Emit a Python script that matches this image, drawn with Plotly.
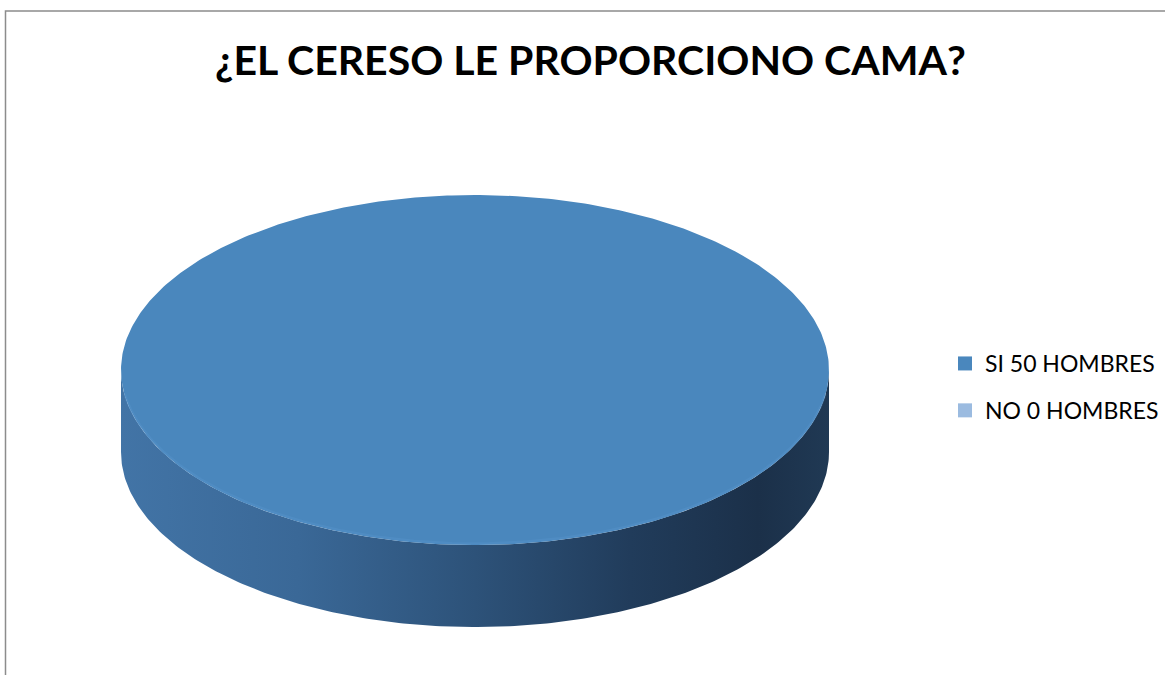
import numpy as np
import plotly.graph_objects as go

# Chart data
title_text = "¿EL CERESO LE PROPORCIONO CAMA?"
categories = ["SI 50 HOMBRES", "NO 0 HOMBRES"]
values = [50, 0]
top_colors = ["#4a87bd", "#9bbbe0"]
side_scales = [
    [[0.0, "#4274a6"], [0.25, "#3a6897"], [0.5, "#2d5279"], [0.72, "#213c5b"],
     [0.9, "#1b3049"], [1.0, "#203954"]],
    [[0.0, "#9bbbe0"], [1.0, "#5f7fa3"]],
]

W, H = 1165, 675

# 3-D pie geometry (pixel space of the canvas)
cx, cy = 475, 370
rx, ry = 354, 175
depth = 82


def arc(t0, t1, yoff=0.0, n=240):
    t = np.linspace(t0, t1, n)
    return cx + rx * np.cos(t), cy + yoff + ry * np.sin(t)


fig = go.Figure()

total = float(sum(values))
start = -np.pi / 2  # first slice starts at 12 o'clock, going clockwise
slices = []
for cat, v, c, sc in zip(categories, values, top_colors, side_scales):
    sweep = 2 * np.pi * v / total
    slices.append((cat, start, start + sweep, c, sc, v))
    start += sweep

# sides first (front half of the cylinder wall, angles 0..pi in screen space)
for cat, a0, a1, c, sc, v in slices:
    if v <= 0:
        continue
    for k in range(-1, 2):
        lo = max(a0, 0 + 2 * np.pi * k)
        hi = min(a1, np.pi + 2 * np.pi * k)
        if hi <= lo:
            continue
        xt, yt = arc(lo, hi)
        xb, yb = arc(hi, lo, depth)
        fig.add_trace(go.Scatter(
            x=np.concatenate([xt, xb, xt[:1]]),
            y=np.concatenate([yt, yb, yt[:1]]),
            mode="lines", line=dict(width=0), fill="toself",
            fillgradient=dict(type="horizontal", colorscale=sc,
                              start=cx - rx, stop=cx + rx),
            hoverinfo="skip", showlegend=False,
        ))

# top faces
for cat, a0, a1, c, sc, v in slices:
    if v <= 0:
        continue
    xa, ya = arc(a0, a1, n=480)
    fig.add_trace(go.Scatter(
        x=np.concatenate([[cx], xa, [cx]]),
        y=np.concatenate([[cy], ya, [cy]]),
        mode="lines", line=dict(width=0), fill="toself", fillcolor=c,
        hoverinfo="skip", showlegend=False,
    ))
    # soft highlight along the front rim
    lo, hi = max(a0, 0.0), min(a1, np.pi)
    if hi > lo:
        xr, yr = arc(lo + 0.15, hi - 0.15, -1.5)
        fig.add_trace(go.Scatter(
            x=xr, y=yr, mode="lines",
            line=dict(color="#5a97cf", width=2.5),
            opacity=0.35, hoverinfo="skip", showlegend=False,
        ))

# legend entries
for i, (cat, c) in enumerate(zip(categories, top_colors)):
    fig.add_trace(go.Scatter(
        x=[None], y=[None], mode="markers", name=cat,
        marker=dict(symbol="square", size=14, color=c),
        legendgroup=f"g{i}",
    ))

fig.add_annotation(
    x=590, y=59, xref="x", yref="y", text=f"<b>{title_text}</b>",
    showarrow=False, xanchor="center", yanchor="middle",
    font=dict(family="Lato", size=41, color="#000000"),
)

# chart-area border
fig.add_shape(type="rect", xref="x", yref="y", x0=5.5, y0=11, x1=1175, y1=690,
              line=dict(color="#8c8c8c", width=1.5), layer="above")

fig.update_layout(
    width=W, height=H,
    margin=dict(l=0, r=0, t=0, b=0),
    paper_bgcolor="#ffffff", plot_bgcolor="#ffffff",
    xaxis=dict(range=[0, W], visible=False, fixedrange=True),
    yaxis=dict(range=[H, 0], visible=False, fixedrange=True),
    showlegend=True,
    legend=dict(
        x=945 / W, y=1 - 342 / H, xanchor="left", yanchor="top",
        font=dict(family="Lato", size=23, color="#000000"),
        tracegroupgap=14, itemsizing="trace",
        bgcolor="rgba(0,0,0,0)",
    ),
)

fig.write_html("out.html")
